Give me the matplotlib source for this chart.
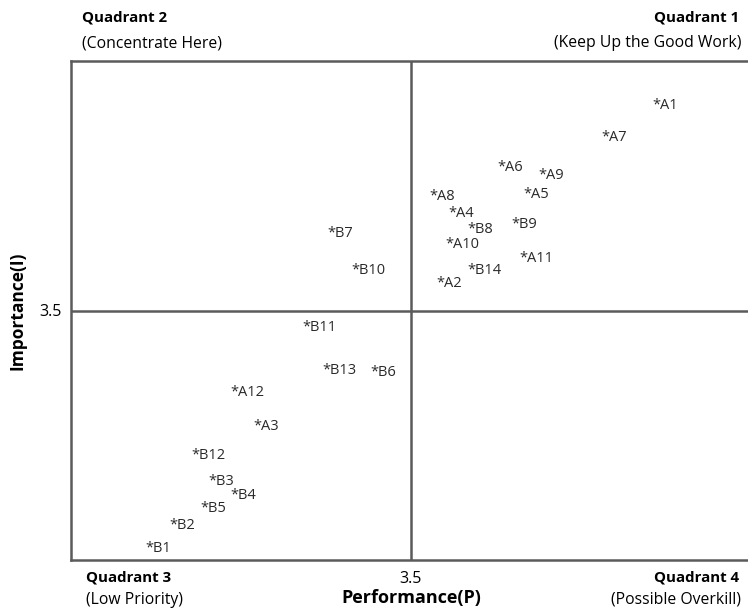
import matplotlib.pyplot as plt

plt.rcParams['font.family'] = ['Open Sans', 'DejaVu Sans']

# point labels and (performance, importance) values
labels = ['A1', 'A7', 'A6', 'A9', 'A5', 'A8', 'A4', 'B8', 'B9', 'A10', 'A11', 'B14', 'A2',
          'B7', 'B10', 'B11', 'B13', 'B6', 'A12', 'A3', 'B12', 'B3', 'B4', 'B5', 'B2', 'B1']
perf = [4.92, 4.62, 4.01, 4.25, 4.16, 3.61, 3.72, 3.83, 4.09, 3.70, 4.14, 3.83, 3.65,
        3.01, 3.15, 2.86, 2.98, 3.26, 2.44, 2.57, 2.21, 2.31, 2.44, 2.26, 2.08, 1.94]
imp = [5.14, 4.89, 4.65, 4.58, 4.43, 4.41, 4.28, 4.15, 4.19, 4.03, 3.92, 3.82, 3.72,
       4.12, 3.82, 3.36, 3.02, 3.00, 2.84, 2.57, 2.34, 2.13, 2.02, 1.91, 1.78, 1.59]
mid = 3.5

W, H = 748, 609
fig = plt.figure(figsize=(W / 100, H / 100), dpi=100)
ax = fig.add_axes([71 / W, (H - 560) / H, 680 / W, 499 / H])
ax.set_xlim(1.5, 5.5)
ax.set_ylim(1.5, 5.5)

frame = '#5b5b5b'
for s in ['left', 'top', 'bottom']:
    ax.spines[s].set_color(frame)
    ax.spines[s].set_linewidth(1.8)
ax.spines['right'].set_visible(False)
ax.axvline(mid, color=frame, lw=1.8)
ax.axhline(mid, color=frame, lw=1.8)

for lab, x, y in zip(labels, perf, imp):
    ax.text(x, y, '*' + lab, ha='left', va='center', fontsize=10.5, color='#2a2a2a')

ax.set_xticks([mid])
ax.set_yticks([mid])
ax.set_xticklabels(['3.5'], fontsize=11.5)
ax.set_yticklabels(['3.5'], fontsize=11.5)
ax.tick_params(axis='x', length=0, pad=8)
ax.tick_params(axis='y', length=0, pad=7)

ax.set_xlabel('Performance(P)', fontsize=13, fontweight='bold', labelpad=1)
ax.set_ylabel('Importance(I)', fontsize=12.5, fontweight='bold', labelpad=9)


def ftext(px, py, s, **kw):
    fig.text(px / W, 1 - py / H, s, va='center', **kw)


ftext(82, 18, 'Quadrant 2', fontsize=10.8, fontweight='bold', ha='left')
ftext(82, 43, '(Concentrate Here)', fontsize=11.3, ha='left')
ftext(739, 18, 'Quadrant 1', fontsize=10.8, fontweight='bold', ha='right')
ftext(741, 43, '(Keep Up the Good Work)', fontsize=11.3, ha='right')
ftext(86, 578, 'Quadrant 3', fontsize=10.8, fontweight='bold', ha='left')
ftext(86, 600, '(Low Priority)', fontsize=11.3, ha='left')
ftext(739, 578, 'Quadrant 4', fontsize=10.8, fontweight='bold', ha='right')
ftext(741, 600, '(Possible Overkill)', fontsize=11.3, ha='right')

fig.savefig('out.png', dpi=100)
